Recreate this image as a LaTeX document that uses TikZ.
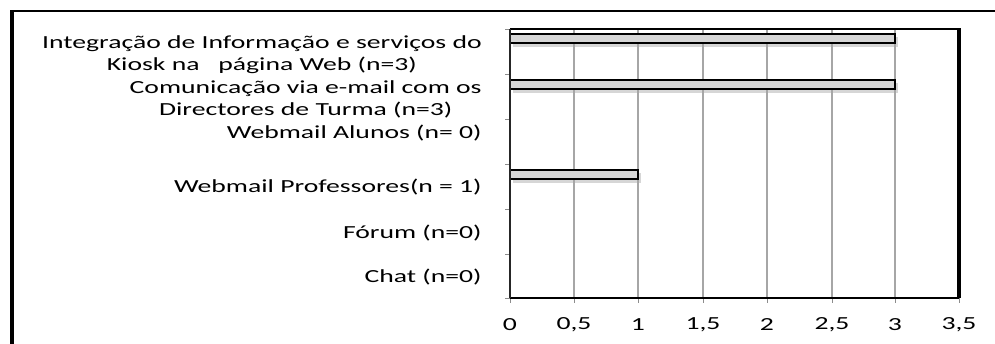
\documentclass[tikz,border=0pt]{standalone}
\usepackage{fontspec}
\setmainfont{Carlito}[FakeStretch=1.5]
\tikzset{
  cat/.style={anchor=east,align=center,inner sep=0pt},
  val/.style={anchor=center,inner sep=0pt},
  bar/.style={draw,fill=black!16,line width=0.9pt},
  barshade/.style={fill=black!35,opacity=0.45},
  grid/.style={black!35,line width=0.7pt}
}
\begin{document}
\begin{tikzpicture}[x=0.02cm,y=-0.02cm,font=\fontsize{10.5}{12.5}\selectfont]
\useasboundingbox[fill=white] (0,0) rectangle (995,343);
\path
(510,29) coordinate (O)
(959,298) coordinate (E);
% outer frame (cut off at right and bottom)
\draw[line width=1.1pt] (11,11)--(996,11);
\draw[line width=2pt] (12,10)--(12,344);
% grid lines
\draw[grid] (574,29)--(574,298) (638,29)--(638,298) (703,29)--(703,298) (767,29)--(767,298) (832,29)--(832,298) (895,29)--(895,298);
% ticks
\draw[black!45,line width=0.5pt] (505,29)--(510,29) (505,74)--(510,74) (505,119)--(510,119) (505,164)--(510,164) (505,209)--(510,209) (505,254)--(510,254) (505,298)--(510,298);
\draw[black!45,line width=0.5pt] (510,298)--(510,303) (574,298)--(574,303) (638,298)--(638,303) (703,298)--(703,303) (767,298)--(767,303) (832,298)--(832,303) (895,298)--(895,303) (959,298)--(959,303);
% bars
\fill[barshade] (513,37) rectangle (898,47);
\draw[bar] (510,34) rectangle (895,43);
\fill[barshade] (513,83) rectangle (898,93);
\draw[bar] (510,80) rectangle (895,89);
\fill[barshade] (513,173) rectangle (641,183);
\draw[bar] (510,170) rectangle (638,179);
% plot frame
\draw[line width=0.9pt] (O)--(959,29);
\draw[line width=0.8pt] (510,298)--(E);
\draw[line width=2.3pt] (959,28)--(E);
\draw[line width=1.7pt,black!85] (O)--(510,298);
% category labels
\node[cat] (kiosk) at (482,55) {Integração de Informação e serviços do\\Kiosk na\ \ \ página Web (n=3)};
\node[cat] (email) at (482,99) {Comunicação via e-mail com os\\Directores de Turma (n=3)};
\node[cat] (alunos) at (482,133) {Webmail Alunos (n= 0)};
\node[cat] (profs) at (482,187) {Webmail Professores(n = 1)};
\node[cat] (forum) at (482,233) {Fórum (n=0)};
\node[cat] (chat) at (482,277) {Chat (n=0)};
% axis values
\node[val] (v0) at (510,325) {0};
\node[val] (v1) at (574,325) {0,5};
\node[val] (v2) at (638,325) {1};
\node[val] (v3) at (703,325) {1,5};
\node[val] (v4) at (767,325) {2};
\node[val] (v5) at (832,325) {2,5};
\node[val] (v6) at (895,325) {3};
\node[val] (v7) at (959,325) {3,5};
\end{tikzpicture}
\end{document}
